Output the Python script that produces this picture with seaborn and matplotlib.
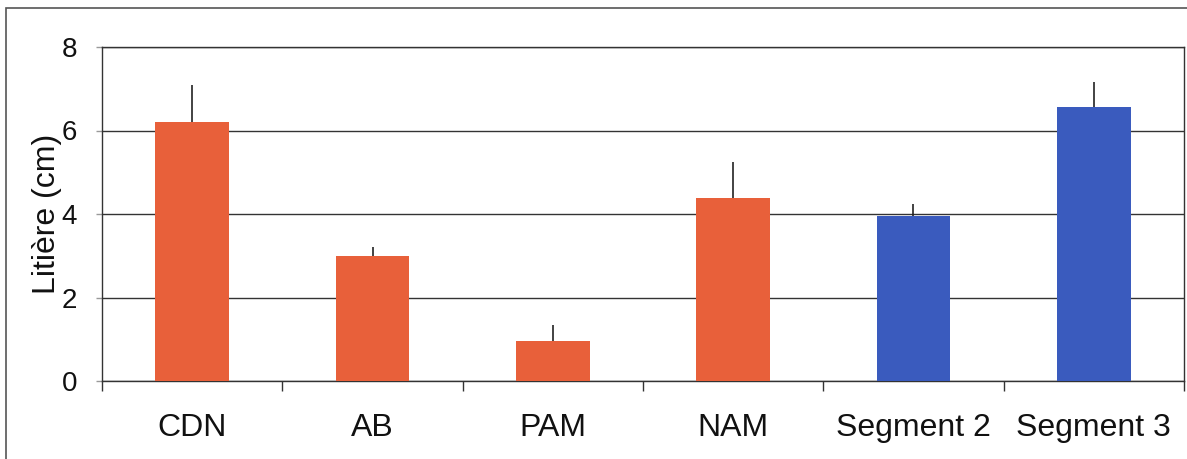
import matplotlib
matplotlib.use("Agg")
import matplotlib.pyplot as plt
import matplotlib.patches as mpatches
import numpy as np
import pandas as pd
import seaborn as sns

# Litter depth per site (mean and upper error)
sites = ["CDN", "AB", "PAM", "NAM", "Segment 2", "Segment 3"]
litter = [6.2, 3.0, 0.96, 4.38, 3.96, 6.57]
litter_err = [0.9, 0.22, 0.38, 0.86, 0.28, 0.6]
groups = ["zone", "zone", "zone", "zone", "segment", "segment"]
tick_values = [0, 2, 4, 6, 8]

group_colors = {"zone": "#E8603A", "segment": "#3A5BBE"}

sns.set_style("white")
plt.rcParams["font.family"] = ["Liberation Sans", "DejaVu Sans"]

df = pd.DataFrame({"site": sites, "litter": litter, "group": groups})

fig = plt.figure(figsize=(11.87, 4.59), dpi=100)
ax = fig.add_axes([102 / 1187, 1 - 381 / 459, (1184 - 102) / 1187, (381 - 47) / 459])

sns.barplot(data=df, x="site", y="litter", hue="group", palette=group_colors,
            dodge=False, width=0.41, legend=False, ax=ax, saturation=1,
            edgecolor="none", zorder=3)

# upper-only error bars
xpos = np.arange(len(sites))
ax.errorbar(xpos, litter, yerr=[np.zeros(len(sites)), litter_err], fmt="none",
            ecolor="#222222", elinewidth=1.2, capsize=0, zorder=4)

ax.set_ylim(0, 8)
ax.set_xlim(-0.5, len(sites) - 0.5)
ax.set_yticks(tick_values)
ax.set_yticklabels([str(v) for v in tick_values])
ax.yaxis.grid(True, color="#333333", linewidth=1.0, zorder=0)
ax.set_axisbelow(True)

# category boundaries carry the x ticks
ax.set_xticks(xpos)
ax.set_xticks(np.arange(-0.5, len(sites), 1.0), minor=True)
ax.tick_params(axis="x", which="major", length=0, pad=23, labelsize=23,
               labelcolor="#111111")
ax.tick_params(axis="x", which="minor", length=7, width=1, color="#333333",
               direction="out", bottom=True)
ax.tick_params(axis="y", length=4, width=1, color="#999999", direction="out",
               left=True, pad=14, labelsize=20, labelcolor="#111111")

ax.set_xlabel("")
ax.set_ylabel("Litière (cm)", fontsize=23, color="#111111")
ax.yaxis.set_label_coords(-0.037, 0.5)

for side in ["left", "bottom", "top", "right"]:
    ax.spines[side].set_visible(True)
    ax.spines[side].set_color("#333333")
    ax.spines[side].set_linewidth(1.0)

# outer chart frame
frame = mpatches.Rectangle((6 / 1187, -0.05), 1.0, 1 - 8 / 459 + 0.05,
                           transform=fig.transFigure, fill=False,
                           edgecolor="#555555", linewidth=1.2)
fig.patches.append(frame)

fig.savefig("out.png", dpi=100)
